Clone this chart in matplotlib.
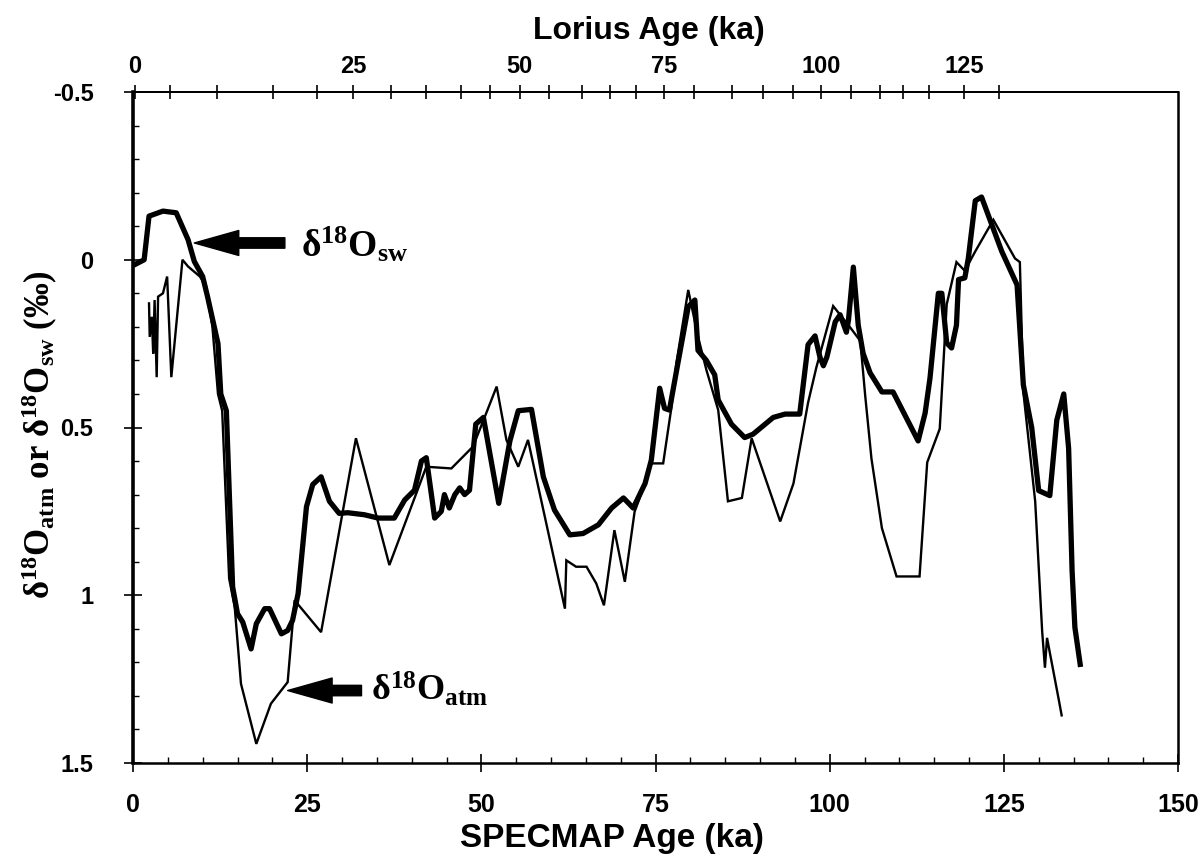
import matplotlib
matplotlib.use('Agg')
import matplotlib.pyplot as plt
from matplotlib.ticker import FixedLocator, MultipleLocator

plt.rcParams['font.family'] = ['Liberation Sans', 'DejaVu Sans']
plt.rcParams['font.weight'] = 'bold'
plt.rcParams['mathtext.fontset'] = 'custom'
plt.rcParams['mathtext.rm'] = 'Liberation Serif:bold'
plt.rcParams['mathtext.it'] = 'Liberation Serif:bold'
plt.rcParams['mathtext.bf'] = 'Liberation Serif:bold'

# ---------------- data (SPECMAP age, ka ; permil) ----------------
sw_age = [0.2, 1.6, 2.3, 4.3, 6.2, 7.9, 8.8, 10.0, 10.7, 12.2,
          12.6, 13.4, 14.3, 15.0, 15.75, 16.95, 17.7, 18.9, 19.6, 21.3,
          22.2, 22.9, 23.7, 24.9, 25.8, 27.0, 28.2, 29.6, 30.8, 33.2,
          35.2, 37.5, 39.0, 40.4, 41.4, 42.1, 43.3, 44.25, 44.7, 45.4,
          46.2, 46.9, 47.6, 48.3, 49.2, 50.3, 52.5, 54.1, 55.3, 57.2,
          58.9, 60.5, 62.7, 64.6, 66.8, 68.7, 70.4, 71.8, 73.5, 74.4,
          75.6, 76.3, 77.0, 78.2, 79.7, 80.65, 81.1, 82.3, 83.5, 84.0,
          85.9, 87.8, 89.0, 91.9, 93.6, 95.7, 96.9, 97.9, 98.6, 99.1,
          99.6, 100.8, 101.5, 102.4, 102.7, 103.4, 104.1, 104.8, 105.8, 107.5,
          109.1, 112.7, 113.7, 114.4, 115.6, 116.1, 116.8, 117.5, 118.2, 118.5,
          119.4, 119.9, 120.9, 121.8, 123.3, 124.7, 126.9, 127.8, 129.0, 130.0,
          131.6, 132.6, 133.6, 134.3, 134.8, 135.2, 135.96]
sw_d18 = [0.015, 0.0, -0.13, -0.145, -0.14, -0.06, 0.005, 0.05, 0.11, 0.25,
          0.40, 0.45, 0.975, 1.055, 1.08, 1.16, 1.085, 1.04, 1.04, 1.115,
          1.105, 1.075, 0.995, 0.736, 0.67, 0.647, 0.72, 0.756, 0.754, 0.76,
          0.77, 0.77, 0.716, 0.687, 0.60, 0.59, 0.77, 0.75, 0.70, 0.74,
          0.70, 0.68, 0.70, 0.687, 0.49, 0.47, 0.726, 0.54, 0.45, 0.446,
          0.647, 0.746, 0.82, 0.816, 0.79, 0.74, 0.71, 0.74, 0.667, 0.597,
          0.383, 0.443, 0.448, 0.31, 0.14, 0.12, 0.27, 0.30, 0.343, 0.418,
          0.49, 0.53, 0.52, 0.47, 0.46, 0.46, 0.253, 0.227, 0.29, 0.316,
          0.29, 0.185, 0.164, 0.216, 0.18, 0.022, 0.195, 0.279, 0.337, 0.394,
          0.394, 0.54, 0.457, 0.353, 0.10, 0.10, 0.248, 0.263, 0.195, 0.059,
          0.054, -0.004, -0.176, -0.187, -0.103, -0.025, 0.075, 0.373, 0.5, 0.688,
          0.703, 0.478, 0.40, 0.562, 0.928, 1.096, 1.206]

atm_age = [2.3, 2.4, 2.7, 2.9, 3.1, 3.4, 3.6, 4.3, 4.9, 5.5,
           7.1, 7.9, 9.6, 10.5, 11.4, 12.2, 12.8, 13.8, 14.6, 15.5,
           17.7, 19.8, 22.2, 23.2, 27.0, 32.0, 36.8, 42.1, 45.7, 48.8,
           50.5, 52.2, 53.6, 55.3, 56.7, 62.0, 62.2, 63.6, 65.1, 66.5,
           67.6, 69.1, 70.6, 72.0, 73.5, 74.4, 76.1, 77.3, 78.0, 79.7,
           81.1, 82.3, 84.0, 85.4, 87.4, 88.8, 92.9, 94.8, 96.9, 98.1,
           100.5, 101.5, 102.7, 104.4, 105.1, 106.0, 107.5, 109.6, 112.9, 114.0,
           115.8, 116.8, 118.2, 119.4, 120.9, 123.5, 126.6, 127.3, 127.8, 129.5,
           130.5, 130.9, 131.2, 132.9, 133.3]
atm_d18 = [0.13, 0.23, 0.17, 0.28, 0.12, 0.35, 0.11, 0.10, 0.05, 0.35,
           0.0, 0.02, 0.05, 0.08, 0.20, 0.40, 0.45, 0.95, 1.035, 1.264,
           1.443, 1.323, 1.259, 1.015, 1.11, 0.532, 0.91, 0.617, 0.622, 0.557,
           0.468, 0.378, 0.537, 0.617, 0.537, 1.04, 0.896, 0.915, 0.915, 0.965,
           1.03, 0.806, 0.96, 0.751, 0.667, 0.607, 0.607, 0.438, 0.308, 0.09,
           0.229, 0.328, 0.448, 0.72, 0.71, 0.532, 0.78, 0.667, 0.426, 0.32,
           0.138, 0.164, 0.195, 0.242, 0.405, 0.593, 0.80, 0.944, 0.944, 0.604,
           0.504, 0.133, 0.007, 0.033, -0.025, -0.119, -0.004, 0.007, 0.394, 0.72,
           1.107, 1.216, 1.127, 1.313, 1.358]

# axes ticks / labels
specmap_ticks = [0, 25, 50, 75, 100, 125, 150]
specmap_labels = ['0', '25', '50', '75', '100', '125', '150']
y_ticks = [-0.5, 0, 0.5, 1, 1.5]
y_labels = ['-0.5', '0', '0.5', '1', '1.5']
# Lorius ages (every 5 ka) and their position on the SPECMAP scale
lorius_ages = [0, 5, 10, 15, 20, 25, 30, 35, 40, 45, 50, 55, 60, 65,
               70, 75, 80, 85, 90, 95, 100, 105, 110, 115, 120, 125, 130]
lorius_pos = [0.3, 5.36, 12.07, 20.07, 26.39, 31.57, 37.07, 42.10, 47.13,
              51.29, 55.50, 59.73, 64.47, 68.43, 72.13, 76.25, 80.56, 85.92,
              90.47, 94.68, 98.75, 103.06, 107.23, 110.59, 114.32, 119.30, 124.24]
lorius_labelled = [0, 25, 50, 75, 100, 125]

# ---------------- figure ----------------
W, H = 1202, 856
fig = plt.figure(figsize=(W / 100, H / 100), dpi=100)
L, R, T, B = 133, 1178, 92, 763
ax = fig.add_axes([L / W, 1 - B / H, (R - L) / W, (B - T) / H])

ax.plot(atm_age, atm_d18, color='black', lw=1.7, solid_joinstyle='miter')
ax.plot(sw_age, sw_d18, color='black', lw=3.8, solid_joinstyle='round')

ax.set_xlim(0, 150)
ax.set_ylim(1.5, -0.5)

ax.xaxis.set_major_locator(FixedLocator(specmap_ticks))
ax.set_xticklabels(specmap_labels)
ax.xaxis.set_minor_locator(MultipleLocator(5))
ax.yaxis.set_major_locator(FixedLocator(y_ticks))
ax.set_yticklabels(y_labels)
ax.yaxis.set_minor_locator(MultipleLocator(0.1))

ax.tick_params(axis='x', which='major', direction='inout', length=13, width=1.2,
               pad=15, labelsize=17)
ax.tick_params(axis='x', which='minor', direction='in', length=4, width=1.0)
ax.tick_params(axis='y', which='major', direction='inout', length=13, width=1.2,
               pad=22, labelsize=17)
ax.tick_params(axis='y', which='minor', direction='in', length=4, width=1.0)

for lbl in ax.get_xticklabels():
    lbl.set_fontweight('bold')
    lbl.set_fontsize(18)
for lbl in ax.get_yticklabels():
    lbl.set_fontweight('bold')

ax.spines['left'].set_linewidth(2.6)
ax.spines['bottom'].set_linewidth(1.8)
ax.spines['right'].set_linewidth(1.8)
ax.spines['top'].set_linewidth(1.4)

# top (Lorius) axis
ax2 = ax.twiny()
ax2.set_xlim(0, 150)
major_pos = [p for a, p in zip(lorius_ages, lorius_pos) if a in lorius_labelled]
major_lab = [str(a) for a in lorius_ages if a in lorius_labelled]
minor_pos = [p for a, p in zip(lorius_ages, lorius_pos) if a not in lorius_labelled]
ax2.xaxis.set_major_locator(FixedLocator(major_pos))
ax2.set_xticklabels(major_lab)
ax2.xaxis.set_minor_locator(FixedLocator(minor_pos))
ax2.tick_params(axis='x', which='both', direction='inout', length=10, width=1.2,
                pad=5, labelsize=17)
for lbl in ax2.get_xticklabels():
    lbl.set_fontweight('bold')
for s in ['left', 'right', 'bottom']:
    ax2.spines[s].set_visible(False)
ax2.spines['top'].set_linewidth(1.4)

# axis titles
fig.text(649 / W, 1 - 31 / H, 'Lorius Age (ka)', ha='center', va='center',
         fontsize=23, fontweight='bold')
fig.text(612 / W, 1 - 838 / H, 'SPECMAP Age (ka)', ha='center', va='center',
         fontsize=24, fontweight='bold')
fig.text(40 / W, 1 - 435 / H,
         'δ$^{18}$O$_{atm}$ or δ$^{18}$O$_{sw}$ (‰)', rotation=90,
         ha='center', va='center', fontsize=25, fontweight='bold',
         family=['Liberation Serif', 'DejaVu Serif'])

# arrows + annotations
arrow_style = 'simple,head_length=32,head_width=18,tail_width=7.5'
ax.annotate('', xy=(8.8, -0.05), xytext=(21.8, -0.05),
            arrowprops=dict(arrowstyle=arrow_style, color='black',
                            mutation_scale=1, shrinkA=0, shrinkB=0))
ax.text(24.1, -0.045, 'δ$^{18}$O$_{sw}$', ha='left', va='center',
        fontsize=27, fontweight='bold', family=['Liberation Serif', 'DejaVu Serif'])
ax.annotate('', xy=(22.2, 1.284), xytext=(32.8, 1.284),
            arrowprops=dict(arrowstyle=arrow_style, color='black',
                            mutation_scale=1, shrinkA=0, shrinkB=0))
ax.text(34.2, 1.28, 'δ$^{18}$O$_{atm}$', ha='left', va='center',
        fontsize=26, fontweight='bold', family=['Liberation Serif', 'DejaVu Serif'])

fig.savefig('out.png', dpi=100)
